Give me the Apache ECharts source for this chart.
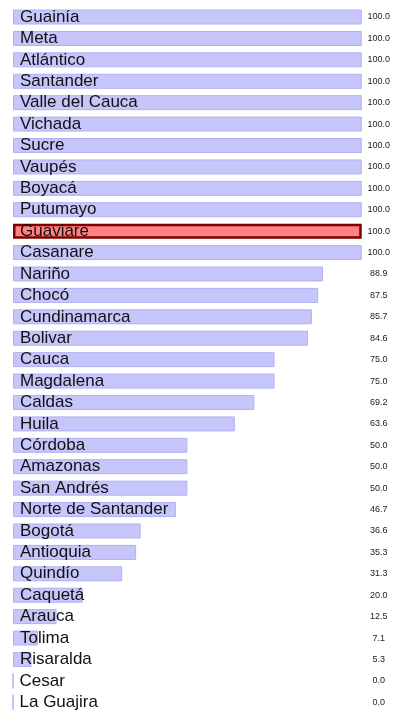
<!DOCTYPE html>
<html>
<head>
<meta charset="utf-8">
<script src="https://cdn.jsdelivr.net/npm/echarts@6/dist/echarts.min.js"></script>
<style>
  html, body { margin: 0; padding: 0; background: #fff; }
  #chart { width: 393px; height: 713px; }
</style>
</head>
<body>
<div id="chart"></div>
<script>
// Departments, top to bottom
const departments = [
  'Guainía', 'Meta', 'Atlántico', 'Santander', 'Valle del Cauca', 'Vichada',
  'Sucre', 'Vaupés', 'Boyacá', 'Putumayo', 'Guaviare', 'Casanare', 'Nariño',
  'Chocó', 'Cundinamarca', 'Bolivar', 'Cauca', 'Magdalena', 'Caldas', 'Huila',
  'Córdoba', 'Amazonas', 'San Andrés', 'Norte de Santander', 'Bogotá',
  'Antioquia', 'Quindío', 'Caquetá', 'Arauca', 'Tolima', 'Risaralda',
  'Cesar', 'La Guajira'
];

// Percentage per department
const percentages = [
  100.0, 100.0, 100.0, 100.0, 100.0, 100.0,
  100.0, 100.0, 100.0, 100.0, 100.0, 100.0, 88.9,
  87.5, 85.7, 84.6, 75.0, 75.0, 69.2, 63.6,
  50.0, 50.0, 50.0, 46.7, 36.6,
  35.3, 31.3, 20.0, 12.5, 7.1, 5.3,
  0.0, 0.0
];

const highlighted = 'Guaviare';

const barData = percentages.map((v, i) => {
  if (departments[i] === highlighted) {
    return {
      value: v,
      itemStyle: { color: '#ff8282', borderColor: '#800000', borderWidth: 2.5 }
    };
  }
  return v;
});

const chart = echarts.init(document.getElementById('chart'), null, { renderer: 'canvas' });

chart.setOption({
  animation: false,
  grid: { left: 13, right: 31, top: 6.3, height: 708.5 },
  xAxis: {
    type: 'value', min: 0, max: 100, show: false
  },
  yAxis: [
    {
      type: 'category', inverse: true, data: departments,
      position: 'left', show: false
    },
    {
      type: 'category', inverse: true,
      data: percentages.map(v => v.toFixed(1)),
      position: 'right',
      axisLine: { show: false }, axisTick: { show: false }, splitLine: { show: false },
      axisLabel: {
        interval: 0, margin: 17, align: 'center', fontSize: 9, color: '#222',
        fontFamily: 'Liberation Sans, Arial, sans-serif'
      }
    }
  ],
  series: [{
    type: 'bar',
    yAxisIndex: 0,
    data: barData,
    barWidth: 15,
    itemStyle: { color: '#c6c6fb', borderColor: '#b0b0f4', borderWidth: 1 },
    label: {
      show: true, position: 'insideLeft', distance: 7, offset: [0, 1.5],
      formatter: p => p.name,
      fontSize: 17, color: '#111',
      fontFamily: 'Liberation Sans, Arial, sans-serif'
    },
    labelLayout: { hideOverlap: false },
    silent: true
  }]
});
</script>
</body>
</html>
